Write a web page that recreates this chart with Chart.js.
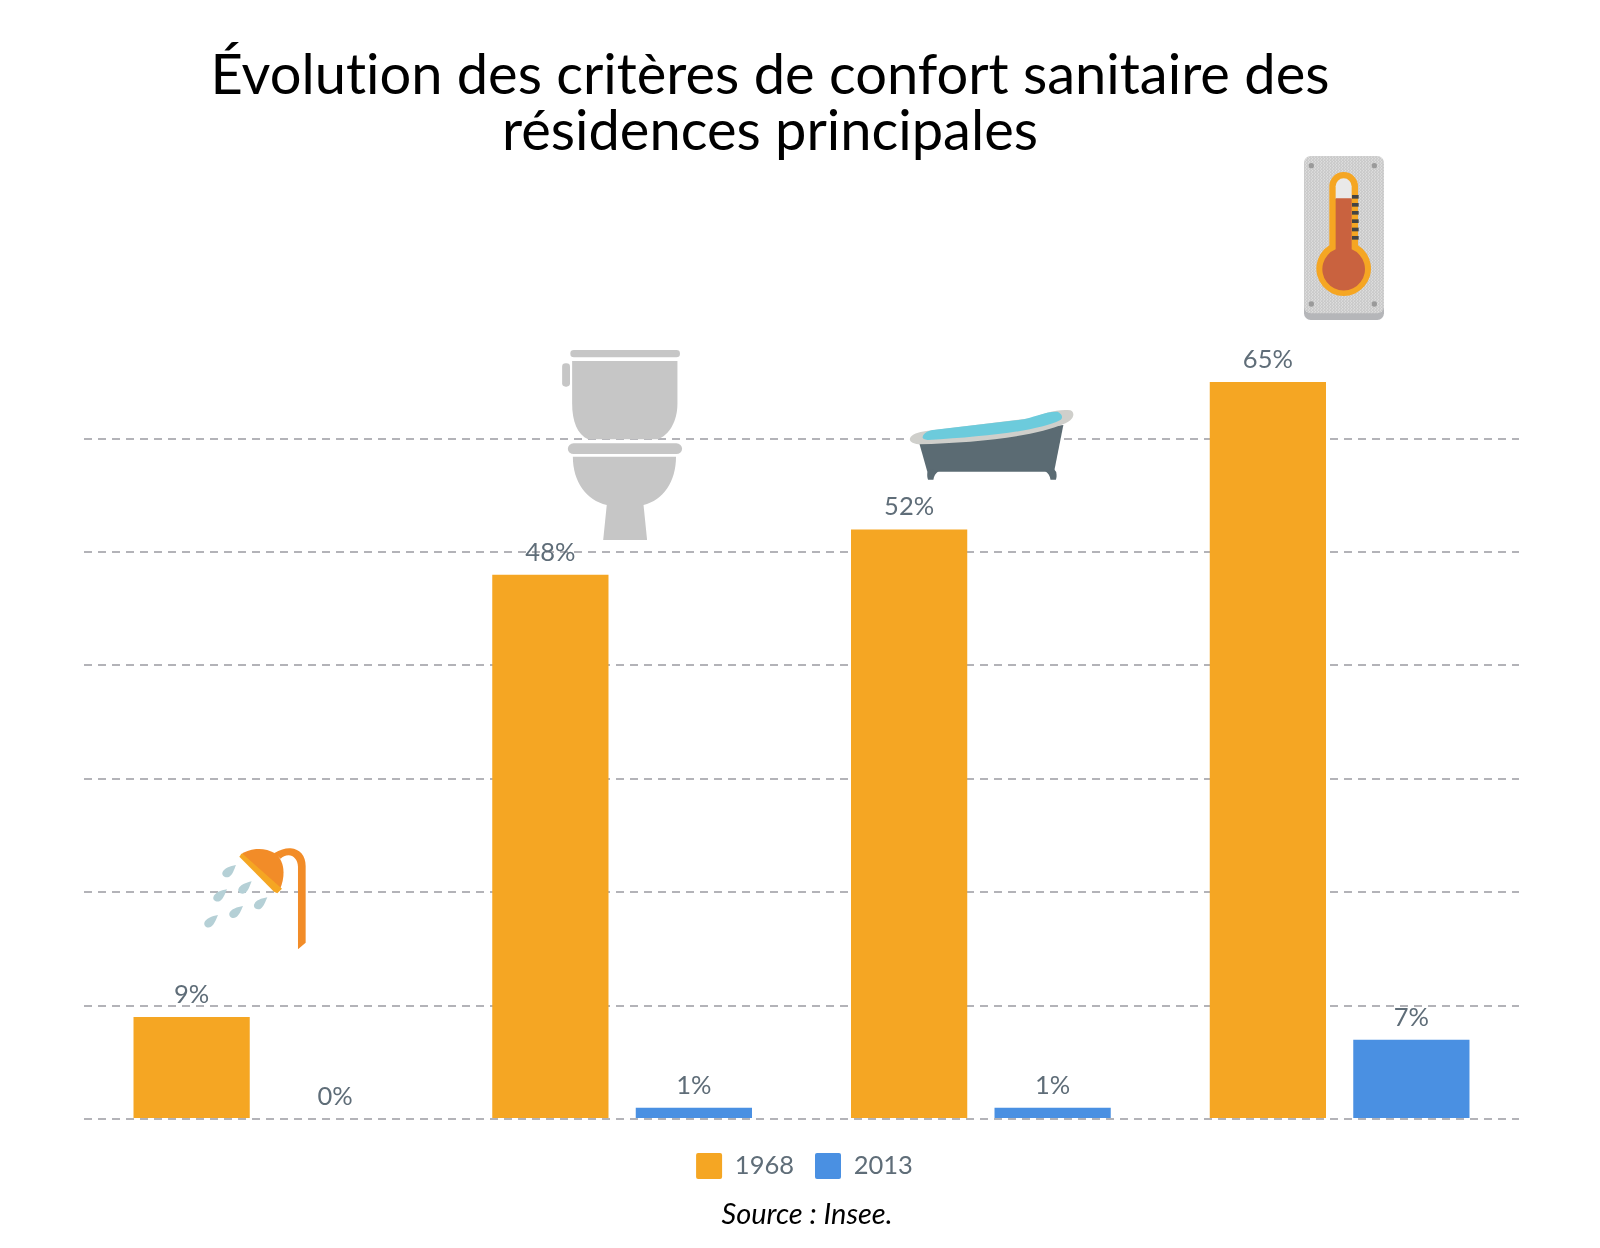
<!DOCTYPE html>
<html lang="fr">
<head>
<meta charset="utf-8">
<title>Évolution des critères de confort sanitaire</title>
<script src="https://cdn.jsdelivr.net/npm/chart.js@4"></script>
<style>
html,body{margin:0;padding:0;background:#fff;}
#wrap{position:relative;width:1600px;height:1248px;overflow:hidden;font-family:Lato,sans-serif;}
#c{position:absolute;left:0;top:0;}
#title{position:absolute;left:170px;width:1200px;top:45px;margin:0;text-align:center;font:400 56px/56px Lato,sans-serif;color:#000;font-variant-ligatures:none;}
#source{position:absolute;left:607px;width:400px;top:1197px;text-align:center;font:italic 400 29px/32px Lato,sans-serif;color:#000;}
#icons{position:absolute;left:0;top:0;pointer-events:none;}
</style>
</head>
<body>
<div id="wrap">
<canvas id="c" width="1600" height="1248"></canvas>
<svg id="icons" width="1600" height="1248" viewBox="0 0 1600 1248" xmlns="http://www.w3.org/2000/svg">
  <defs>
    <pattern id="dots" width="9" height="9" patternUnits="userSpaceOnUse">
      <circle cx="2" cy="2" r="1.6" fill="#fff"/><circle cx="7" cy="6" r="1.6" fill="#fff"/>
    </pattern>
  </defs>
  <!-- shower -->
  <g transform="translate(150 820) scale(.3333)">
    <path fill="#F28C28" d="M372 100C392 88 408 84 422 85C450 87 467 108 467 138L467 368L444 388L444 140C444 120 430 106 416 106C406 106 398 110 392 116Z"/>
    <path fill="#F28C28" d="M272 104C296 86 340 78 375 100C400 118 410 160 390 208Z"/>
    <path fill="#F5A623" d="M268 110L276 100L396 206L382 220L372 215Z"/>
    <g fill="#B5D0D6">
      <path d="M258 135C240 138 222 144 217 158C215 168 228 176 238 170C248 164 252 150 258 135Z"/>
      <path d="M231 208C212 211 194 218 190 232C188 242 200 248 210 243C220 237 225 222 231 208Z"/>
      <path d="M305 184C288 188 270 194 265 208C263 218 275 225 285 219C295 214 299 198 305 184Z"/>
      <path d="M352 232C335 235 316 241 312 254C310 265 322 271 332 266C342 260 346 245 352 232Z"/>
      <path d="M279 258C262 261 243 267 238 280C236 291 248 298 258 292C268 286 273 272 279 258Z"/>
      <path d="M204 285C186 288 167 296 163 308C161 319 173 326 183 320C193 314 198 299 204 285Z"/>
    </g>
  </g>
  <!-- toilet -->
  <g transform="translate(540 340) scale(.357 .3333)" fill="#C6C6C6">
    <rect x="85" y="30" width="307" height="22" rx="10"/>
    <rect x="62" y="70" width="22" height="70" rx="10"/>
    <path d="M90 63L385 63L385 190C385 245 362 285 330 298L135 298C105 285 90 245 90 190Z"/>
    <rect x="78" y="310" width="320" height="32" rx="16"/>
    <path d="M92 350L381 350C381 425 345 480 290 495L300 600L177 600L187 495C130 480 92 425 92 350Z"/>
  </g>
  <!-- bathtub -->
  <g transform="translate(540 340) scale(.357 .3333)">
    <path fill="#5B6B73" d="M1062 308L1466 255L1440 395L1085 395Z"/>
    <path fill="#5B6B73" d="M1085 396C1084 408 1085 414 1087 419L1102 419C1103 408 1108 400 1118 392L1090 388Z"/>
    <path fill="#5B6B73" d="M1446 396C1448 408 1447 414 1445 419L1430 419C1429 408 1424 400 1414 392L1440 388Z"/>
    <path fill="#CFCFCB" d="M1036 296C1040 282 1060 276 1082 273L1380 234C1410 220 1450 206 1486 211C1500 218 1496 238 1472 250C1380 292 1220 308 1060 313C1044 311 1035 305 1036 296Z"/>
    <path fill="#6CCBDC" d="M1072 290C1075 278 1090 272 1100 270L1340 240C1385 234 1410 214 1450 215C1464 222 1466 235 1456 241C1400 272 1250 290 1086 300C1076 298 1070 295 1072 290Z"/>
  </g>
  <!-- thermometer -->
  <g transform="translate(1270 140) scale(.3333)">
    <rect x="102" y="60" width="240" height="480" rx="20" fill="#B5B6B9"/>
    <rect x="102" y="48" width="240" height="472" rx="20" fill="#C9C9C9"/>
    <rect x="102" y="48" width="240" height="472" rx="20" fill="url(#dots)" opacity=".8"/>
    <g fill="#9A9A9A"><circle cx="124" cy="77" r="8"/><circle cx="313" cy="77" r="8"/><circle cx="124" cy="492" r="8"/><circle cx="313" cy="492" r="8"/></g>
    <path fill="#F5A623" d="M178 139A43 43 0 0 1 264 139L264 316A82 82 0 1 1 178 316Z"/>
    <path fill="#E9E9E9" d="M197 139A24 24 0 0 1 245 139L245 177L197 177Z"/>
    <path fill="#C9623F" d="M197 175L245 175L245 328A64 64 0 1 1 197 328Z"/>
    <g fill="#444"><rect x="246" y="165" width="20" height="11"/><rect x="246" y="189" width="20" height="11"/><rect x="246" y="213" width="20" height="11"/><rect x="246" y="238" width="20" height="11"/><rect x="246" y="263" width="20" height="11"/><rect x="246" y="288" width="20" height="11"/></g>
  </g>
</svg>
<h1 id="title" style="font-weight:400">Évolution des critères de confort sanitaire des<br>résidences principales</h1>
<div id="source">Source : Insee.</div>
</div>
<script>
const categories = ["Douche", "WC", "Baignoire", "Chauffage"];
const series1968 = [9, 48, 52, 65];
const series2013 = [0, 1, 1, 7];
const seriesNames = ["1968", "2013"];
const orange = "#F5A623";
const blue = "#4A90E2";
const textGrey = "#5F6D78";

const barLabels = {
  id: "barLabels",
  afterDatasetsDraw(chart) {
    const ctx = chart.ctx;
    ctx.save();
    ctx.font = "400 25.5px Lato, sans-serif";
    ctx.fillStyle = textGrey;
    ctx.textAlign = "center";
    ctx.textBaseline = "alphabetic";
    chart.data.datasets.forEach((ds, i) => {
      chart.getDatasetMeta(i).data.forEach((bar, j) => {
        ctx.fillText(ds.data[j] + "%", bar.x, bar.y - 14);
      });
    });
    ctx.restore();
  }
};

const legendNudge = {
  id: "legendNudge",
  afterLayout(chart) {
    chart.legend.left += 3;
    chart.legend.right += 3;
    chart.legend.top -= 1;
    chart.legend.bottom -= 1;
  }
};

new Chart(document.getElementById("c"), {
  type: "bar",
  data: {
    labels: categories,
    datasets: [
      { label: seriesNames[0], data: series1968, backgroundColor: orange, categoryPercentage: 0.8, barPercentage: 0.81 },
      { label: seriesNames[1], data: series2013, backgroundColor: blue, categoryPercentage: 0.8, barPercentage: 0.81 }
    ]
  },
  options: {
    responsive: false,
    animation: false,
    devicePixelRatio: 1,
    layout: { padding: { left: 84, right: 81, top: 382, bottom: 58 } },
    scales: {
      x: {
        display: true,
        afterFit(axis) { axis.height = 14; },
        grid: { display: false, drawTicks: false },
        border: { display: false },
        ticks: { display: false }
      },
      y: {
        min: 0, max: 65,
        afterBuildTicks(axis) { axis.ticks = [0, 10, 20, 30, 40, 50, 60].map(v => ({ value: v })); },
        grid: { color: "#B3B3B8", lineWidth: 2, drawTicks: false },
        border: { display: false, dash: [8, 6] },
        ticks: { display: false }
      }
    },
    plugins: {
      title: { display: false },
      tooltip: { enabled: false },
      legend: {
        display: true,
        position: "bottom",
        labels: {
          boxWidth: 26, boxHeight: 26, padding: 21, color: textGrey,
          font: { family: "Lato, sans-serif", size: 25.5 },
          useBorderRadius: true, borderRadius: 2
        }
      }
    }
  },
  plugins: [barLabels, legendNudge]
});
</script>
</body>
</html>
